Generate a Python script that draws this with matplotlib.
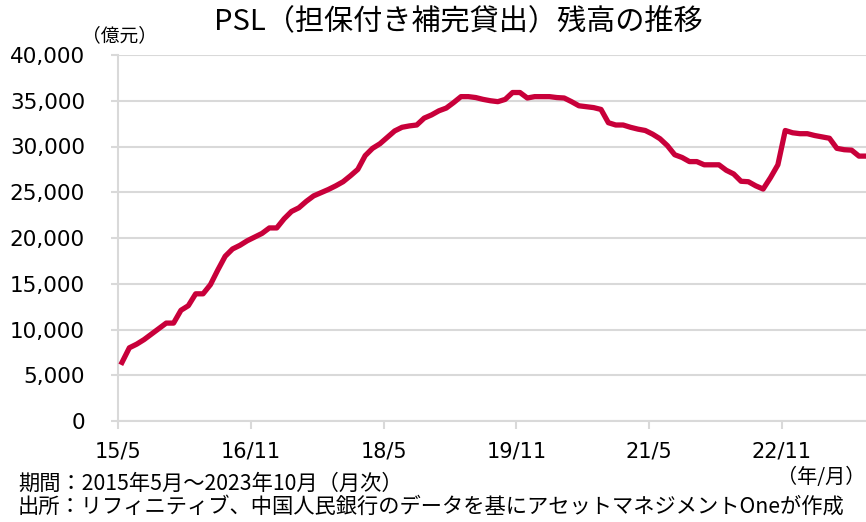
import matplotlib
matplotlib.use("Agg")
import matplotlib.pyplot as plt
import numpy as np

# PSL残高（億元）、2015年5月〜2023年10月の月次
psl = [
    6400, 8000, 8400, 8900, 9500, 10100, 10700, 10700, 12100, 12600,
    13900, 13900, 14900, 16500, 18000, 18800, 19200, 19700, 20100, 20500,
    21100, 21100, 22100, 22900, 23300, 24000, 24600, 24950, 25300, 25700,
    26150, 26800, 27500, 29000, 29800, 30300, 31000, 31700, 32100, 32250,
    32350, 33100, 33450, 33900, 34200, 34800, 35450, 35450, 35350, 35150,
    35000, 34900, 35150, 35900, 35900, 35300, 35450, 35450, 35450, 35350,
    35300, 34900, 34450, 34350, 34250, 34050, 32600, 32350, 32350, 32100,
    31900, 31750, 31350, 30850, 30100, 29100, 28800, 28350, 28350, 28000,
    28000, 28000, 27400, 27000, 26200, 26150, 25700, 25350, 26600, 28000,
    31750, 31500, 31400, 31400, 31200, 31050, 30900, 29800, 29650, 29600,
    28950, 28950,
]
tick_labels = ["15/5", "16/11", "18/5", "19/11", "21/5", "22/11"]
tick_months = [0, 18, 36, 54, 72, 90]
y_ticks = [0, 5000, 10000, 15000, 20000, 25000, 30000, 35000, 40000]

jp = ["Noto Sans CJK JP", "DejaVu Sans"]
grid_c = "#d9d9d9"

fig = plt.figure(figsize=(8.66, 5.22), dpi=100)
ax = fig.add_axes([118.3 / 866, 101 / 522, (870 - 118.3) / 866, 366 / 522])

m = np.arange(len(psl))
ax.plot(m, psl, color="#C8003A", lw=3.8, solid_joinstyle="round", zorder=3)

ax.set_xlim(-0.5, len(psl) - 0.5)
ax.set_ylim(0, 40000)
ax.set_yticks(y_ticks)
ax.set_yticklabels([f"{v:,}" for v in y_ticks], fontsize=15.5, family="DejaVu Sans")
ax.set_xticks([t - 0.5 for t in tick_months])
ax.set_xticklabels(tick_labels, fontsize=15, family="DejaVu Sans")

ax.grid(axis="y", color=grid_c, lw=1.5)
ax.set_axisbelow(True)
for s in ["top", "right"]:
    ax.spines[s].set_visible(False)
for s in ["left", "bottom"]:
    ax.spines[s].set_color(grid_c)
    ax.spines[s].set_linewidth(1.5)
ax.tick_params(axis="y", length=5, width=1.5, color=grid_c, pad=19)
ax.tick_params(axis="x", length=6, width=1.5, color=grid_c, pad=9)

fig.text(458 / 866, 1 - 22 / 522, "PSL（担保付き補完貸出）残高の推移",
         ha="center", va="center", fontsize=21, family=jp)
fig.text(120 / 866, 1 - 36 / 522, "（億元）", ha="center", va="center",
         fontsize=13.5, family=jp)
fig.text(865 / 866, 1 - 477 / 522, "（年/月）", ha="right", va="center",
         fontsize=14.5, family=jp)
fig.text(18 / 866, 1 - 484 / 522, "期間：2015年5月～2023年10月（月次）",
         ha="left", va="center", fontsize=15.3, family=jp)
fig.text(18 / 866, 1 - 507 / 522,
         "出所：リフィニティブ、中国人民銀行のデータを基にアセットマネジメントOneが作成",
         ha="left", va="center", fontsize=15.3, family=jp)

fig.savefig("out.png", dpi=100)
